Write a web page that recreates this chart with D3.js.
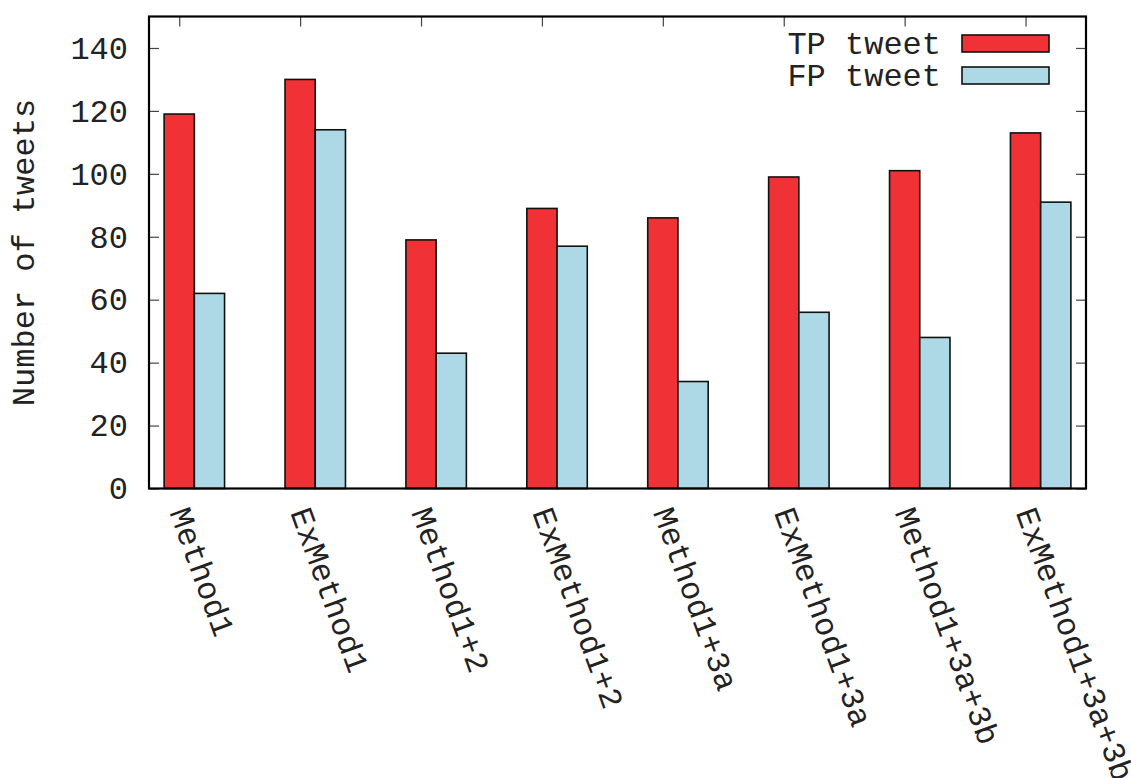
<!DOCTYPE html>
<html>
<head>
<meta charset="utf-8">
<script src="https://cdn.jsdelivr.net/npm/d3@7"></script>
<style>
  html, body { margin: 0; padding: 0; background: #fff; }
  svg { display: block; }
  text { font-family: "Liberation Mono", "DejaVu Sans Mono", monospace; fill: #222; }
</style>
</head>
<body>
<svg id="chart" width="1131" height="778"></svg>
<script>
// Methods compared
const categories = ["Method1", "ExMethod1", "Method1+2", "ExMethod1+2",
                    "Method1+3a", "ExMethod1+3a", "Method1+3a+3b", "ExMethod1+3a+3b"];
// Series names and colours
const seriesNames = ["TP tweet", "FP tweet"];
const seriesColors = ["#f03236", "#add8e6"];
// Tweet counts per method
const tpValues = [119, 130, 79, 89, 86, 99, 101, 113];
const fpValues = [62, 114, 43, 77, 34, 56, 48, 91];
// Y axis ticks
const yTicks = [0, 20, 40, 60, 80, 100, 120, 140];
const yLabel = "Number of tweets";

const seriesValues = [tpValues, fpValues];
const rows = categories.map((c, i) => ({
  category: c,
  values: seriesNames.map((s, j) => ({ series: s, value: seriesValues[j][i], color: seriesColors[j] }))
}));

const svg = d3.select("#chart");
const plotLeft = 149, plotRight = 1086, plotTop = 16.5, plotBottom = 488.5;
const fontSize = 32;

const x0 = d3.scaleBand().domain(categories).range([plotLeft, plotRight])
  .paddingInner(0.5).paddingOuter(0.125);
const x1 = d3.scaleBand().domain(seriesNames).range([0, x0.bandwidth()]);
const y = d3.scaleLinear().domain([0, 150]).range([plotBottom, plotTop]);

// Category tick positions sit at the centre of the first bar of each cluster
const tickPos = d3.scaleOrdinal().domain(categories)
  .range(categories.map(c => x0(c) + x1(seriesNames[0]) + x1.bandwidth() / 2));

// Bars
const groups = svg.append("g").selectAll("g").data(rows).join("g")
  .attr("transform", d => `translate(${x0(d.category)},0)`);
groups.selectAll("rect").data(d => d.values).join("rect")
  .attr("x", d => x1(d.series))
  .attr("y", d => y(d.value))
  .attr("width", x1.bandwidth())
  .attr("height", d => y(0) - y(d.value))
  .attr("fill", d => d.color)
  .attr("stroke", "#111")
  .attr("stroke-width", 1.6);

// Left axis
const yAxisL = svg.append("g").attr("transform", `translate(${plotLeft},0)`)
  .call(d3.axisLeft(y).tickValues(yTicks).tickSize(-10).tickPadding(21));
// Right mirror ticks
const yAxisR = svg.append("g").attr("transform", `translate(${plotRight},0)`)
  .call(d3.axisRight(y).tickValues(yTicks).tickSize(-10).tickFormat(""));
// Top mirror ticks
const xAxisT = svg.append("g").attr("transform", `translate(0,${plotTop})`)
  .call(d3.axisTop(tickPos).tickSize(-10).tickFormat(""));
// Bottom category labels
const xAxisB = svg.append("g").attr("transform", `translate(0,${plotBottom})`)
  .call(d3.axisBottom(tickPos).tickSize(0));

[yAxisL, yAxisR, xAxisT, xAxisB].forEach(a => {
  a.select(".domain").remove();
  a.selectAll(".tick line").attr("stroke", "#444").attr("stroke-width", 1.2);
  a.selectAll("text").attr("font-size", fontSize)
    .attr("font-family", "'Liberation Mono', monospace").attr("fill", "#222");
});

xAxisB.selectAll(".tick text")
  .attr("x", 0).attr("y", 0).attr("dy", "0.35em")
  .attr("text-anchor", "start")
  .attr("transform", "translate(0,20) rotate(70)");

// Plot frame
svg.append("rect")
  .attr("x", plotLeft).attr("y", plotTop)
  .attr("width", plotRight - plotLeft).attr("height", plotBottom - plotTop)
  .attr("fill", "none").attr("stroke", "#000").attr("stroke-width", 2.2);

// Y axis title
svg.append("text")
  .attr("transform", `translate(34,${(plotTop + plotBottom) / 2}) rotate(-90)`)
  .attr("text-anchor", "middle")
  .attr("font-size", fontSize)
  .text(yLabel);

// Legend
const legend = svg.append("g").selectAll("g").data(seriesNames).join("g")
  .attr("transform", (d, i) => `translate(0,${43.5 + i * 32})`);
legend.append("text")
  .attr("x", 941).attr("y", 0).attr("dy", "0.33em")
  .attr("text-anchor", "end")
  .attr("font-size", fontSize)
  .text(d => d);
legend.append("rect")
  .attr("x", 962).attr("y", -8.5)
  .attr("width", 87).attr("height", 17)
  .attr("fill", (d, i) => seriesColors[i])
  .attr("stroke", "#111").attr("stroke-width", 1.6);
</script>
</body>
</html>
